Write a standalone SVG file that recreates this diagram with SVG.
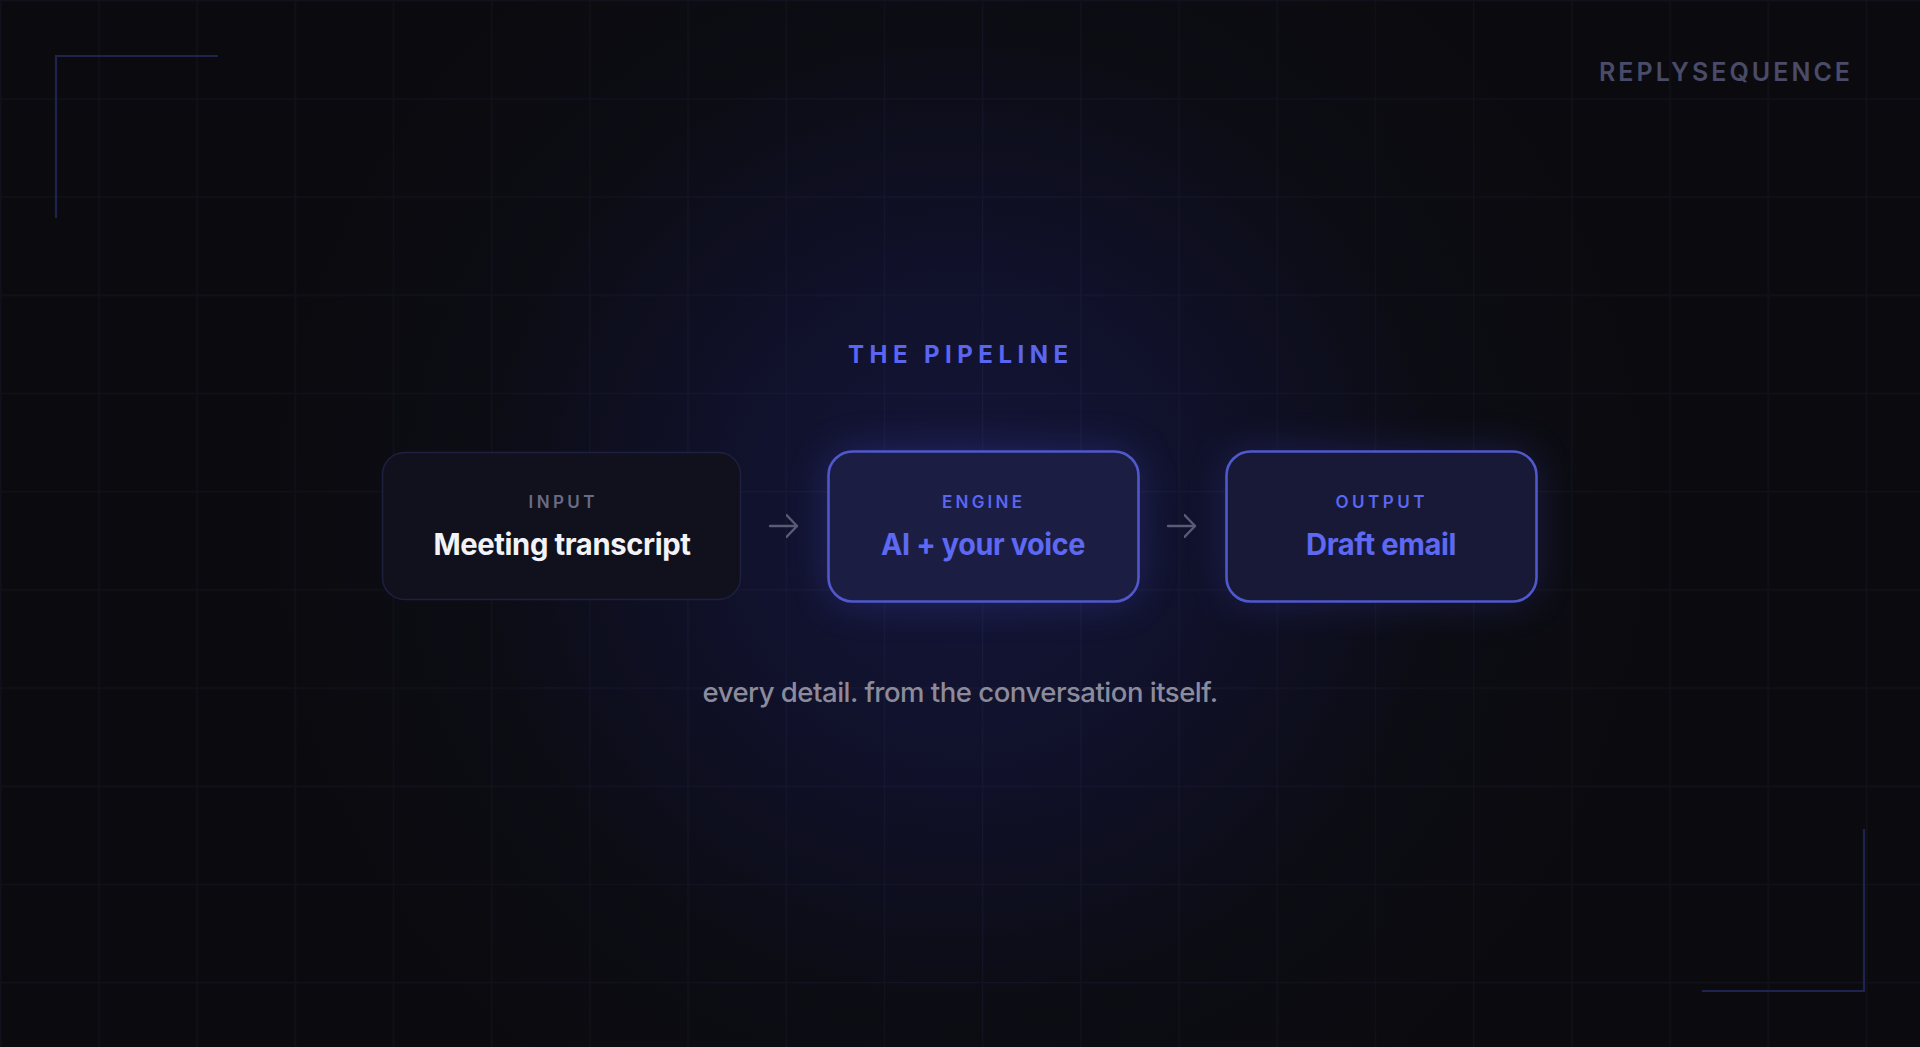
<svg xmlns="http://www.w3.org/2000/svg" width="1920" height="1047" viewBox="0 0 1920 1047">
<defs>
<radialGradient id="bgGlow" cx="960" cy="520" r="700" gradientUnits="userSpaceOnUse">
<stop offset="0" stop-color="#15163a"/>
<stop offset="0.35" stop-color="#10112a"/>
<stop offset="0.7" stop-color="#0c0c14"/>
<stop offset="1" stop-color="#0b0b0f"/>
</radialGradient>
<pattern id="grid" width="98.2" height="98.2" patternUnits="userSpaceOnUse">
<path d="M0 0.5 H98.2 M0.5 0 V98.2" fill="none" stroke="#8a90ff" stroke-opacity="0.05" stroke-width="1.5"/>
</pattern>
<filter id="glow" x="-40%" y="-50%" width="180%" height="200%">
<feGaussianBlur stdDeviation="20"/>
</filter>
<marker id="arrowHead" viewBox="0 0 12 24" refX="11" refY="12" markerWidth="12" markerHeight="24" markerUnits="userSpaceOnUse" orient="auto">
<path d="M0.5 1 L11 12 L0.5 23" fill="none" stroke="#5a5b74" stroke-width="2.4" stroke-linecap="round" stroke-linejoin="round"/>
</marker>
<style>
.sans{font-family:Inter,"Liberation Sans",sans-serif;}
.kicker{font-size:17px;font-weight:600;text-anchor:middle;}
.title{font-size:30px;font-weight:700;text-anchor:middle;letter-spacing:-0.4px;}
.corner{fill:none;stroke:#1f2350;stroke-width:2.2;}
.conn{fill:none;stroke:#5a5b74;stroke-width:2.4;stroke-linecap:round;}
</style>
</defs>

<rect width="1920" height="1047" fill="#0b0b10"/>
<rect width="1920" height="1047" fill="url(#bgGlow)"/>
<rect width="1920" height="1047" fill="url(#grid)"/>

<path class="corner" d="M56 218 V56 H218"/>
<path class="corner" d="M1864 829 V991 H1702"/>

<text class="sans" x="1599" y="81" font-size="25" font-weight="600" fill="#4a4b69" textLength="251" lengthAdjust="spacing">REPLYSEQUENCE</text>

<text class="sans" x="958" y="363" font-size="24" font-weight="700" fill="#5a66f0" text-anchor="middle" textLength="220" lengthAdjust="spacing">THE PIPELINE</text>

<g id="glows">
<rect x="828" y="451" width="311" height="151" rx="24" fill="#4a52e0" opacity="0.28" filter="url(#glow)"/>
<rect x="1226" y="451" width="311" height="151" rx="24" fill="#4a52e0" opacity="0.24" filter="url(#glow)"/>
</g>

<g id="node-input">
<rect x="382.5" y="452.5" width="358" height="147" rx="22" fill="#10111d" stroke="#1e2042" stroke-width="1.5"/>
<text class="sans kicker" x="561.5" y="508" fill="#6a6b84" textLength="66" lengthAdjust="spacing">INPUT</text>
<text class="sans title" x="562" y="555" fill="#f2f2f7" textLength="257" lengthAdjust="spacingAndGlyphs">Meeting transcript</text>
</g>

<g id="node-engine">
<rect x="828.5" y="451.5" width="310" height="150" rx="24" fill="#1c1d42" stroke="#4f58cc" stroke-width="2.6"/>
<text class="sans kicker" x="982" y="508" fill="#5b67ee" textLength="80" lengthAdjust="spacing">ENGINE</text>
<text class="sans title" x="983" y="555" fill="#5d69f2" textLength="204" lengthAdjust="spacingAndGlyphs">AI + your voice</text>
</g>

<g id="node-output">
<rect x="1226.5" y="451.5" width="310" height="150" rx="24" fill="#181936" stroke="#4f58cc" stroke-width="2.6"/>
<text class="sans kicker" x="1380" y="508" fill="#5b67ee" textLength="89" lengthAdjust="spacing">OUTPUT</text>
<text class="sans title" x="1381" y="555" fill="#5d69f2" textLength="150" lengthAdjust="spacingAndGlyphs">Draft email</text>
</g>

<g id="connectors">
<path class="conn" d="M770 526 H797" marker-end="url(#arrowHead)"/>
<path class="conn" d="M1168 526 H1195" marker-end="url(#arrowHead)"/>
</g>

<text class="sans" x="960" y="702" font-size="27" font-weight="500" fill="#8b8b9c" text-anchor="middle" textLength="515" lengthAdjust="spacingAndGlyphs" letter-spacing="-0.5">every detail. from the conversation itself.</text>
</svg>
